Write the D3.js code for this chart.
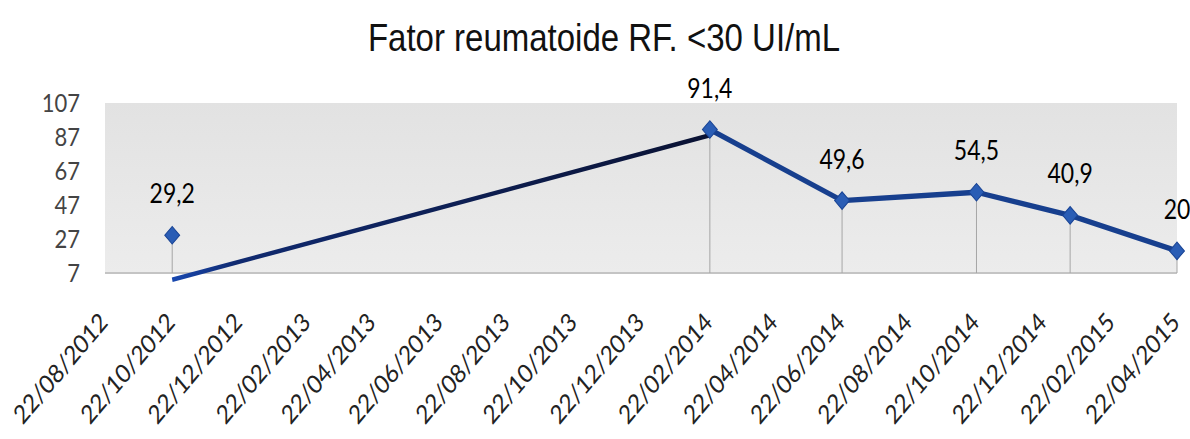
<!DOCTYPE html>
<html>
<head>
<meta charset="utf-8">
<script src="https://cdn.jsdelivr.net/npm/d3@7"></script>
<style>
  body { margin: 0; background: #fff; }
</style>
</head>
<body>
<div class="container"></div>
<script>
let width = 1190
let height = 439
// the source picture is stretched vertically, so draw in a flatter space and scale it
let stretch = 1.18

let title = "Fator reumatoide RF. <30 UI/mL"

// measured values
let dates = ["2012-10-22", "2014-02-22", "2014-06-22", "2014-10-22", "2015-01-15", "2015-04-22"]
let values = [29.2, 91.4, 49.6, 54.5, 40.9, 20]
let labels = ["29,2", "91,4", "49,6", "54,5", "40,9", "20"]
// only these points are joined by the blue line
let joined = [1, 2, 3, 4, 5]

// the dark line drawn from the first visit to the second
let extraDates = ["2012-10-22", "2014-02-22"]
let extraValues = [3, 88]

let yTicks = [7, 27, 47, 67, 87, 107]
let xStart = "2012-08-22"
let xEnd = "2015-04-22"

let parse = d3.timeParse("%Y-%m-%d")
let fmt = d3.timeFormat("%d/%m/%Y")

let plotLeft = 105, plotRight = 1177
let plotTop = 103 / stretch, plotBottom = 273 / stretch

let x = d3.scaleTime()
  .domain([parse(xStart), parse(xEnd)])
  .range([plotLeft, plotRight])

let y = d3.scaleLinear()
  .domain([7, 107])
  .range([plotBottom, plotTop])

// tick every two months on day 22
let xTicks = []
for (let d = parse(xStart); d <= parse(xEnd); d = d3.timeMonth.offset(d, 2)) xTicks.push(d)

let points = dates.map(function(d, i) {
  return { date: parse(d), value: values[i], label: labels[i] }
})
let extra = extraDates.map(function(d, i) {
  return { date: parse(d), value: extraValues[i] }
})

let svg = d3.select(".container")
  .append("svg")
  .attr("width", width)
  .attr("height", height)

let defs = svg.append("defs")
let bg = defs.append("linearGradient")
  .attr("id", "plotBg")
  .attr("x1", 0).attr("y1", 0).attr("x2", 0).attr("y2", 1)
bg.append("stop").attr("offset", "0%").attr("stop-color", "#e2e2e2")
bg.append("stop").attr("offset", "100%").attr("stop-color", "#ececec")

let darkLine = defs.append("linearGradient")
  .attr("id", "darkLine")
  .attr("gradientUnits", "userSpaceOnUse")
  .attr("x1", x(extra[0].date)).attr("y1", 0)
  .attr("x2", x(extra[1].date)).attr("y2", 0)
darkLine.append("stop").attr("offset", "0%").attr("stop-color", "#1848b0")
darkLine.append("stop").attr("offset", "12%").attr("stop-color", "#102a70")
darkLine.append("stop").attr("offset", "100%").attr("stop-color", "#0a1233")

let g = svg.append("g")
  .attr("transform", "scale(1," + stretch + ")")

g.append("text")
  .attr("x", 604)
  .attr("y", 51 / stretch)
  .attr("text-anchor", "middle")
  .attr("font-family", "Liberation Sans, Arial, sans-serif")
  .attr("font-size", "33px")
  .attr("fill", "#111")
  .text(title)

g.append("rect")
  .attr("x", plotLeft)
  .attr("y", plotTop)
  .attr("width", plotRight - plotLeft)
  .attr("height", plotBottom - plotTop)
  .attr("fill", "url(#plotBg)")

g.append("line")
  .attr("x1", plotLeft).attr("x2", plotRight)
  .attr("y1", plotBottom).attr("y2", plotBottom)
  .attr("stroke", "#c4c4c4")
  .attr("stroke-width", 1.5)

// y labels
g.selectAll(".yLabel")
  .data(yTicks)
  .enter()
  .append("text")
  .attr("class", "yLabel")
  .attr("x", 80)
  .attr("y", function(d) { return y(d) })
  .attr("dy", "0.36em")
  .attr("text-anchor", "end")
  .attr("font-family", "Lato, sans-serif")
  .attr("font-size", "22px")
  .attr("fill", "#444")
  .text(function(d) { return d })

// x labels, rotated
g.selectAll(".xLabel")
  .data(xTicks)
  .enter()
  .append("text")
  .attr("class", "xLabel")
  .attr("transform", function(d) { return "translate(" + (x(d) + 4) + "," + (plotBottom + 43) + ") rotate(-45)" })
  .attr("text-anchor", "end")
  .attr("font-family", "Lato, sans-serif")
  .attr("font-size", "22px")
  .attr("fill", "#222")
  .text(function(d) { return fmt(d) })

// drop lines
g.selectAll(".drop")
  .data(points)
  .enter()
  .append("line")
  .attr("class", "drop")
  .attr("x1", function(d) { return x(d.date) })
  .attr("x2", function(d) { return x(d.date) })
  .attr("y1", function(d) { return y(d.value) })
  .attr("y2", plotBottom)
  .attr("stroke", "#a6a6a6")
  .attr("stroke-width", 1)

let line = d3.line()
  .x(function(d) { return x(d.date) })
  .y(function(d) { return y(d.value) })

g.append("path")
  .datum(extra)
  .attr("d", line)
  .attr("fill", "none")
  .attr("stroke", "url(#darkLine)")
  .attr("stroke-width", 3.8)

g.append("path")
  .datum(joined.map(function(i) { return points[i] }))
  .attr("d", line)
  .attr("fill", "none")
  .attr("stroke", "#173f8e")
  .attr("stroke-width", 4.5)
  .attr("stroke-linejoin", "round")

g.selectAll(".marker")
  .data(points)
  .enter()
  .append("path")
  .attr("class", "marker")
  .attr("d", d3.symbol().type(d3.symbolSquare).size(110))
  .attr("transform", function(d) { return "translate(" + x(d.date) + "," + y(d.value) + ") rotate(45)" })
  .attr("fill", "#2a5db5")
  .attr("stroke", "#1a4596")
  .attr("stroke-width", 1)

g.selectAll(".valueLabel")
  .data(points)
  .enter()
  .append("text")
  .attr("class", "valueLabel")
  .attr("x", function(d) { return x(d.date) })
  .attr("y", function(d) { return y(d.value) - 27 })
  .attr("text-anchor", "middle")
  .attr("font-family", "Lato, sans-serif")
  .attr("font-size", "23px")
  .attr("fill", "#000")
  .text(function(d) { return d.label })
</script>
</body>
</html>
